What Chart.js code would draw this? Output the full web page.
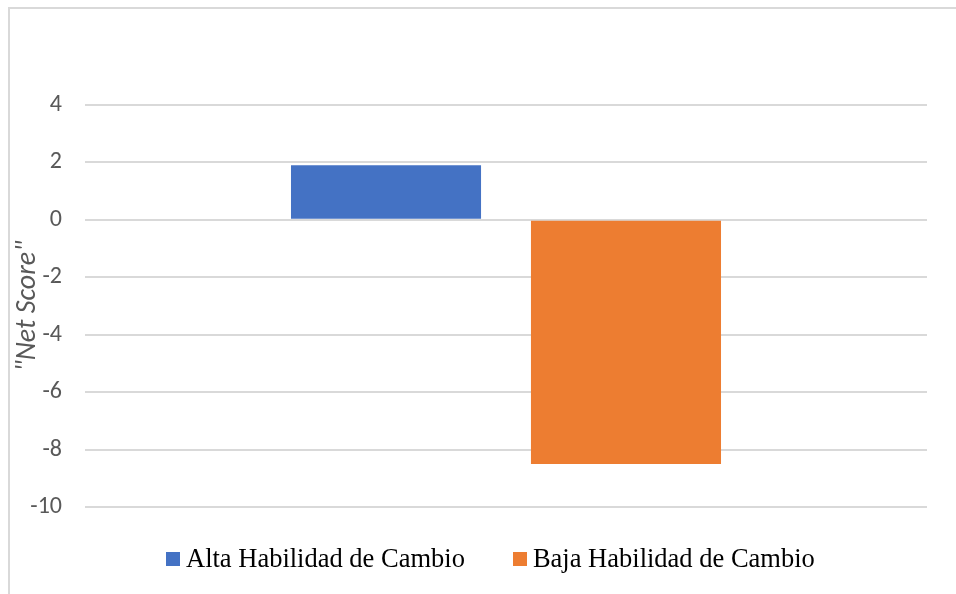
<!DOCTYPE html>
<html lang="es">
<head>
<meta charset="UTF-8">
<title>Net Score por Habilidad de Cambio</title>
<style>
    body {
        margin: 0;
        background: #fff;
    }
    #wrap {
        position: relative;
        width: 956px;
        height: 594px;
        overflow: hidden;
    }
    #frame {
        position: absolute;
        left: 8px;
        top: 7px;
        width: 1000px;
        height: 1000px;
        border-left: 2px solid #d9d9d9;
        border-top: 2px solid #d9d9d9;
    }
    #chart {
        position: absolute;
        left: 0;
        top: 0;
    }
    #legend {
        position: absolute;
        left: 166px;
        top: 545px;
        display: flex;
        font-family: 'Liberation Serif', 'Times New Roman', serif;
        font-size: 26.5px;
        line-height: 1;
        color: #000;
        white-space: nowrap;
    }
    .item {
        display: flex;
        align-items: flex-start;
    }
    .item + .item {
        margin-left: 48px;
    }
    .swatch {
        width: 14px;
        height: 14px;
        margin-top: 7px;
        margin-right: 6px;
    }
</style>
</head>
<body>
<div id="wrap">
    <div id="frame"></div>
    <canvas id="chart" width="956" height="594"></canvas>
    <div id="legend"></div>
</div>

<script src="https://cdn.jsdelivr.net/npm/chart.js"></script>
<script>
    // Datos del gráfico
    const categorias = [''];
    const series = ['Alta Habilidad de Cambio', 'Baja Habilidad de Cambio'];
    const valoresAlta = [1.9];
    const valoresBaja = [-8.5];
    const colores = ['#4472C4', '#ED7D31'];
    const tituloEjeY = '"Net Score"';
    const ejeMin = -10;
    const ejeMax = 4;
    const ejePaso = 2;

    const fuenteSans = "Calibri, Carlito, 'Liberation Sans', Arial, sans-serif";

    const chart = new Chart(document.getElementById('chart'), {
        type: 'bar',
        data: {
            labels: categorias,
            datasets: [
                { label: series[0], data: valoresAlta, backgroundColor: colores[0] },
                { label: series[1], data: valoresBaja, backgroundColor: colores[1] }
            ]
        },
        options: {
            responsive: false,
            animation: false,
            categoryPercentage: 0.57,
            barPercentage: 0.792,
            layout: {
                padding: { left: 8, right: 29, top: 105, bottom: 87 }
            },
            plugins: {
                legend: { display: false },
                tooltip: { enabled: false }
            },
            scales: {
                x: { display: false },
                y: {
                    min: ejeMin,
                    max: ejeMax,
                    afterFit: (scale) => { scale.width = 77; },
                    border: { display: false },
                    grid: {
                        color: '#d9d9d9',
                        lineWidth: 2,
                        drawTicks: false
                    },
                    ticks: {
                        stepSize: ejePaso,
                        padding: 23,
                        color: '#595959',
                        font: { family: fuenteSans, size: 24 }
                    },
                    title: {
                        display: true,
                        text: tituloEjeY,
                        color: '#595959',
                        padding: { top: 3, bottom: 4 },
                        font: { family: fuenteSans, size: 28, style: 'italic' }
                    }
                }
            }
        }
    });

    // Leyenda inferior con las series
    const leyenda = document.getElementById('legend');
    series.forEach((nombre, i) => {
        const item = document.createElement('div');
        item.className = 'item';
        const muestra = document.createElement('span');
        muestra.className = 'swatch';
        muestra.style.background = colores[i];
        const texto = document.createElement('span');
        texto.textContent = nombre;
        item.appendChild(muestra);
        item.appendChild(texto);
        leyenda.appendChild(item);
    });
</script>
</body>
</html>
